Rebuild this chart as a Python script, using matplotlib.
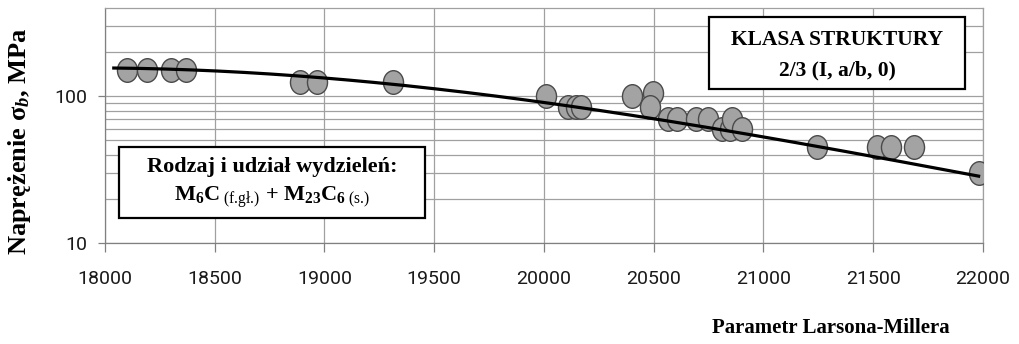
import numpy as np
from matplotlib import pyplot as plt
from matplotlib.path import Path
from matplotlib.transforms import Affine2D
from matplotlib.patches import Rectangle
from matplotlib.ticker import FixedLocator, NullFormatter

# Larson-Miller parameter and stress of each creep test
lmp = [18100, 18190, 18300, 18370, 18890, 18965, 19310,
       20010, 20110, 20145, 20170, 20400, 20498, 20483,
       20566, 20604, 20694, 20748, 20810, 20847, 20855, 20902,
       21243, 21515, 21579, 21685, 21981]
stress = [150, 150, 150, 150, 125, 125, 125,
          100, 85, 85, 85, 100, 105, 85,
          70, 70, 70, 70, 60, 60, 70, 60,
          45, 45, 45, 45, 30]

# trend line (master curve) nodes
trend_lmp = [18040, 19000, 20000, 20500, 21000, 21500, 21980]
trend_stress = [157, 130, 93, 71.5, 52, 38, 29]

x_ticks = [18000, 18500, 19000, 19500, 20000, 20500, 21000, 21500, 22000]
y_major = [10, 100]
y_minor = [20, 30, 40, 50, 60, 70, 80, 90, 200, 300]

plt.rcParams["mathtext.fontset"] = "custom"
plt.rcParams["mathtext.rm"] = "Liberation Serif"
plt.rcParams["mathtext.bf"] = "Liberation Serif:bold"
plt.rcParams["mathtext.it"] = "Liberation Serif:italic:bold"

grid_col = "#a0a0a0"

fig = plt.figure(figsize=(10.2, 3.44), dpi=100)
ax = fig.add_axes([105 / 1020, 1 - 243 / 344, 878 / 1020, 235 / 344])

# slightly tall oval marker
oval = Path.unit_circle().transformed(Affine2D().scale(0.85, 1.0))

# smooth curve through the trend nodes (cubic in log stress)
coef = np.polyfit(trend_lmp, np.log10(trend_stress), 3)
xs = np.linspace(trend_lmp[0], trend_lmp[-1], 200)
ax.plot(xs, 10 ** np.polyval(coef, xs), color="black", lw=2.3, zorder=4)

ax.plot(lmp, stress, linestyle="none", marker=oval, markersize=17,
        markerfacecolor="#a3a3a3", markeredgecolor="#4a4a4a",
        markeredgewidth=1.0, zorder=3)

ax.set_yscale("log")
ax.set_xlim(18000, 22000)
ax.set_ylim(10, 400)
ax.set_xticks(x_ticks)
ax.yaxis.set_major_locator(FixedLocator(y_major))
ax.yaxis.set_minor_locator(FixedLocator(y_minor))
ax.yaxis.set_minor_formatter(NullFormatter())
ax.set_yticklabels(["10", "100"])

ax.grid(True, which="both", axis="y", color=grid_col, lw=0.9)
ax.grid(True, which="major", axis="x", color=grid_col, lw=0.9)
ax.set_axisbelow(True)
for sp in ax.spines.values():
    sp.set_color(grid_col)
    sp.set_linewidth(0.9)
ax.spines["bottom"].set_color("#808080")
ax.spines["left"].set_color("#808080")

ax.tick_params(axis="x", which="major", length=6.5, width=0.9, color="#808080",
               pad=13, labelsize=14)
ax.tick_params(axis="y", which="major", length=5, width=0.9, color="#808080",
               pad=8, labelsize=14)
ax.tick_params(axis="y", which="minor", length=0)
for lab in ax.get_xticklabels() + ax.get_yticklabels():
    lab.set_fontfamily("Roboto")
    lab.set_color("#1a1a1a")


def info_box(x0, y0, x1, y1, lines, size):
    # box and centred lines, given in pixel coordinates of the figure
    W, H = 1020, 344
    fig.patches.append(Rectangle((x0 / W, 1 - y1 / H), (x1 - x0) / W, (y1 - y0) / H,
                                 transform=fig.transFigure, facecolor="white",
                                 edgecolor="black", lw=1.6, zorder=5))
    for ty, txt in lines:
        fig.text((x0 + x1) / 2 / W, 1 - ty / H, txt, ha="center", va="center",
                 family="Liberation Serif", weight="bold", fontsize=size, zorder=6)


info_box(119, 147, 425, 218,
         [(167, "Rodzaj i udział wydzieleń:"),
          (197, r"M$_{\mathbf{6}}$C$_{\text{ (f.gł.)}}$ + "
                r"M$_{\mathbf{23}}$C$_{\mathbf{6}\text{ (s.)}}$")], 16)
info_box(709, 17, 965, 89,
         [(40, "KLASA STRUKTURY"),
          (70, "2/3 (I, a/b, 0)")], 15.5)

fig.text(20 / 1020, 1 - 141 / 344, r"Naprężenie σ$_{b}$, MPa", rotation=90,
         ha="center", va="center", family="Liberation Serif", weight="bold",
         fontsize=19)
fig.text(831 / 1020, 1 - 328 / 344, "Parametr Larsona-Millera",
         ha="center", va="center", family="Liberation Serif", weight="bold",
         fontsize=15)

fig.savefig("out.png", dpi=100)
